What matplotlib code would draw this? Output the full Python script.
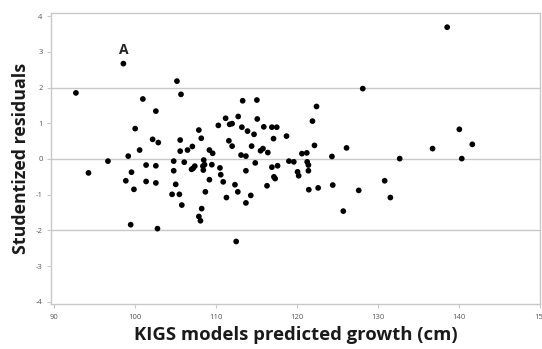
import matplotlib
matplotlib.use("Agg")
import matplotlib.pyplot as plt

# Predicted growth (cm) and studentized residual per patient
predicted = [
    98.6, 92.75, 105.2, 105.7, 101.0, 102.6, 100.05, 102.2, 102.9, 100.6,
    99.2, 96.7, 94.3, 99.6, 101.4, 102.6, 105.6, 105.6, 106.5, 107.1,
    107.9, 108.2, 104.8, 106.1, 104.8, 108.5, 108.6, 108.4, 108.45, 107.4,
    107.2, 107.0, 109.5, 109.2, 109.6, 110.5, 110.6, 110.3, 111.2, 111.7,
    112.0, 112.75, 113.3, 115.05, 115.1, 113.2, 113.9, 114.7, 115.9, 116.9,
    117.5, 111.6, 112.0, 113.1, 113.7, 114.4, 115.5, 115.8, 116.4, 117.1,
    118.7, 114.85, 113.7, 116.9, 117.6, 119.0, 119.6, 120.6, 121.2, 121.25,
    121.4, 121.4, 120.06, 120.2, 117.15, 117.3, 98.9, 99.9, 101.4, 102.6,
    105.05, 104.6, 105.5, 105.8, 108.25, 107.9, 108.1, 108.7, 109.2, 110.9,
    111.3, 112.35, 112.7, 114.3, 113.7, 116.3, 99.5, 102.8, 112.5, 121.45,
    122.6, 122.4, 121.9, 122.15, 126.1, 124.3, 132.65, 136.7, 140.0, 141.6,
    140.3, 124.4, 127.6, 130.8, 131.5, 125.7, 138.5, 128.1,
]
residuals = [
    2.67, 1.85, 2.18, 1.81, 1.68, 1.34, 0.85, 0.55, 0.46, 0.25,
    0.08, -0.06, -0.39, -0.37, -0.17, -0.19, 0.53, 0.22, 0.25, 0.35,
    0.81, 0.58, -0.06, -0.09, -0.33, -0.03, -0.16, -0.20, -0.31, -0.20,
    -0.26, -0.29, -0.16, 0.25, 0.16, -0.25, -0.44, 0.94, 1.14, 0.97,
    0.99, 1.19, 1.63, 1.65, 1.12, 0.89, 0.78, 0.69, 0.90, 0.89,
    0.89, 0.51, 0.36, 0.11, 0.08, 0.36, 0.23, 0.29, 0.18, 0.57,
    0.64, -0.11, -0.33, -0.23, -0.19, -0.06, -0.08, 0.15, 0.17, -0.08,
    -0.17, -0.33, -0.36, -0.47, -0.50, -0.55, -0.61, -0.85, -0.63, -0.67,
    -0.71, -0.99, -0.99, -1.29, -1.39, -1.61, -1.73, -0.92, -0.58, -0.64,
    -1.08, -0.72, -0.92, -1.02, -1.23, -0.75, -1.84, -1.95, -2.31, -0.86,
    -0.81, 1.47, 1.06, 0.38, 0.31, 0.07, 0.01, 0.29, 0.83, 0.41,
    0.01, -0.73, -0.88, -0.61, -1.08, -1.46, 3.69, 1.97,
]

x_ticks = [90, 100, 110, 120, 130, 140, 150]
y_ticks = [-4, -3, -2, -1, 0, 1, 2, 3, 4]
ref_lines = [-2, 0, 2]
outlier_label = "A"
outlier_index = 0

plt.rcParams["font.family"] = ["Open Sans", "DejaVu Sans"]

fig = plt.figure(figsize=(5.42, 3.49), dpi=100)
ax = fig.add_axes([0.0941, 0.129, 0.9031, 0.833])

frame_col = "#c8c8c8"
for y in ref_lines:
    ax.axhline(y, color=frame_col, lw=1.0, zorder=1)

ax.scatter(predicted, residuals, s=17, color="black", edgecolors="none", zorder=3)

ax.annotate(outlier_label, (predicted[outlier_index], residuals[outlier_index]),
            xytext=(0, 5), textcoords="offset points", ha="center", va="bottom",
            fontsize=10, fontweight="bold", color="#222222")

ax.set_xlim(89.68, 150.0)
ax.set_ylim(-4.06, 4.08)
ax.set_xticks(x_ticks)
ax.set_yticks(y_ticks)
ax.set_xticklabels([str(v) for v in x_ticks])
ax.set_yticklabels([str(v) for v in y_ticks])

for s in ax.spines.values():
    s.set_color(frame_col)
    s.set_linewidth(1.0)

ax.tick_params(axis="both", length=3, width=0.8, color=frame_col,
               labelsize=5.5, labelcolor="#555555", pad=3)
ax.tick_params(axis="x", pad=4)

ax.set_xlabel("KIGS models predicted growth (cm)", fontsize=13.3,
              fontweight="bold", color="#1a1a1a", labelpad=4)
ax.set_ylabel("Studentized residuals", fontsize=12.8,
              fontweight="bold", color="#1a1a1a", labelpad=4)

fig.savefig("out.png", dpi=100)
